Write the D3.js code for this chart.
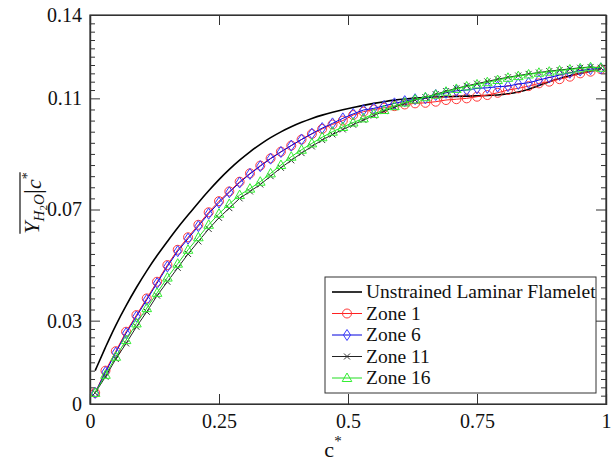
<!DOCTYPE html>
<html><head><meta charset="utf-8">
<script src="https://cdn.jsdelivr.net/npm/d3@7"></script>
<style>body{margin:0;background:#fff}svg{display:block}
svg text{font-family:"Liberation Serif","Times New Roman",Times,serif;}</style>
</head><body>
<svg id="chart" width="611" height="465"></svg>
<script>
// ---- data ----
const cStar = d3.range(50).map(i => +(0.01 + 0.02 * i).toFixed(2));
const flamelet = [0.012,0.0205,0.0285,0.0355,0.042,0.048,0.0535,0.0585,0.0635,0.068,
  0.0725,0.0768,0.0808,0.0845,0.0878,0.0908,0.0935,0.0959,0.098,0.0998,
  0.1014,0.1028,0.104,0.105,0.1059,0.1067,0.1075,0.1082,0.1088,0.1094,
  0.1098,0.1101,0.1103,0.1105,0.1106,0.1107,0.1108,0.1109,0.111,0.1112,
  0.1116,0.1122,0.1132,0.1146,0.116,0.1172,0.1182,0.119,0.1198,0.1205];
const zone1 = [0.004,0.012,0.019,0.026,0.032,0.038,0.044,0.05,0.0555,0.06,
  0.0645,0.069,0.073,0.0765,0.08,0.083,0.0858,0.0884,0.0908,0.093,
  0.0952,0.0972,0.099,0.1006,0.102,0.104,0.1052,0.106,0.1066,0.1072,
  0.1078,0.1082,0.1084,0.1088,0.1094,0.1097,0.11,0.1106,0.1112,0.112,
  0.113,0.1136,0.1144,0.1154,0.116,0.1169,0.1178,0.119,0.1196,0.1205];
const zone6 = [0.004,0.0115,0.0185,0.0255,0.0315,0.0375,0.0435,0.0495,0.055,0.0595,
  0.064,0.0685,0.0725,0.0762,0.0797,0.0828,0.0856,0.0883,0.0907,0.093,
  0.0952,0.0973,0.0993,0.101,0.1028,0.1044,0.1058,0.1064,0.1073,0.1082,
  0.109,0.1097,0.11,0.1112,0.112,0.1127,0.113,0.1136,0.1138,0.1142,
  0.1144,0.1152,0.1156,0.1166,0.1175,0.1184,0.1192,0.12,0.1205,0.1208];
const zone11 = [0.004,0.0098,0.0162,0.0218,0.0278,0.0332,0.039,0.044,0.049,0.054,
  0.0585,0.063,0.067,0.0705,0.074,0.0765,0.079,0.082,0.085,0.0877,
  0.0903,0.0927,0.095,0.097,0.0988,0.1005,0.1022,0.1038,0.1054,0.1068,
  0.1082,0.1094,0.1104,0.1115,0.1126,0.1136,0.1145,0.1153,0.1161,0.1169,
  0.1176,0.1182,0.1188,0.1193,0.1198,0.1202,0.1206,0.121,0.1213,0.121];
const zone16 = [0.004,0.0105,0.017,0.023,0.029,0.0345,0.04,0.0455,0.0505,0.0555,
  0.06,0.0645,0.0685,0.072,0.0752,0.0775,0.08,0.083,0.086,0.089,
  0.0915,0.0938,0.096,0.098,0.0997,0.1013,0.1028,0.1044,0.1058,0.1072,
  0.1085,0.1096,0.1104,0.1113,0.1124,0.1134,0.1143,0.115,0.1158,0.1166,
  0.1174,0.118,0.1186,0.1192,0.1196,0.12,0.1204,0.1208,0.1212,0.121];
const xTicks = [0, 0.25, 0.5, 0.75, 1];
const xTickLabels = ["0", "0.25", "0.5", "0.75", "1"];
const yTicks = [0, 0.03, 0.07, 0.11, 0.14];
const yTickLabels = ["0", "0.03", "0.07", "0.11", "0.14"];
const legendLabels = ["Unstrained Laminar Flamelet", "Zone 1", "Zone 6", "Zone 11", "Zone 16"];

// ---- setup ----
const svg = d3.select("#chart");
const L = 90, R = 606, T = 15, B = 404;
const font = '"Liberation Serif","Times New Roman",Times,serif';
const x = d3.scaleLinear().domain([0, 1]).range([L, R]);
const y = d3.scaleLinear().domain([0, 0.14]).range([B, T]);
const axisColor = "#333";

const yMinor = [];
for (let i = 0; i < yTicks.length - 1; i++) {
  const a = yTicks[i], b = yTicks[i + 1];
  for (let k = 1; k < 10; k++) yMinor.push(a + (b - a) * k / 10);
}

function styleAxis(g) {
  g.attr("font-family", null);
  g.selectAll("path").attr("stroke", axisColor).attr("stroke-width", 1.2);
  g.selectAll("line").attr("stroke", axisColor).attr("stroke-width", 1);
  g.selectAll("text").style("font-family", font).style("font-size", "20px").attr("fill", "#111");
}

svg.append("g").attr("transform", `translate(0,${B})`)
  .call(d3.axisBottom(x).tickValues(xTicks).tickFormat((d, i) => xTickLabels[i]).tickSize(-10).tickPadding(10))
  .call(styleAxis);
svg.append("g").attr("transform", `translate(0,${T})`)
  .call(d3.axisTop(x).tickValues(xTicks).tickFormat("").tickSize(-10))
  .call(styleAxis);
svg.append("g").attr("transform", `translate(${L},0)`)
  .call(d3.axisLeft(y).tickValues(yMinor).tickFormat("").tickSize(-5))
  .call(styleAxis);
svg.append("g").attr("transform", `translate(${L},0)`)
  .call(d3.axisLeft(y).tickValues(yTicks).tickFormat((d, i) => yTickLabels[i]).tickSize(-10).tickPadding(8))
  .call(styleAxis);
svg.append("g").attr("transform", `translate(${R},0)`)
  .call(d3.axisRight(y).tickValues(yMinor).tickFormat("").tickSize(-5))
  .call(styleAxis);
svg.append("g").attr("transform", `translate(${R},0)`)
  .call(d3.axisRight(y).tickValues(yTicks).tickFormat("").tickSize(-10))
  .call(styleAxis);

// ---- series ----
const pts = arr => cStar.map((c, i) => [c, arr[i]]);
const plot = svg.append("g");
const smooth = d3.line().x(d => x(d[0])).y(d => y(d[1])).curve(d3.curveBasis);
plot.append("path").datum(pts(flamelet)).attr("d", smooth)
  .attr("fill", "none").attr("stroke", "#000").attr("stroke-width", 1.6);

const lin = d3.line().x(d => x(d[0])).y(d => y(d[1]));
const series = [
  {data: zone1, color: "#ff3a3a", line: "#ff2020", marker: "circle"},
  {data: zone6, color: "#3a3aff", line: "#0000dd", marker: "diamond"},
  {data: zone11, color: "#333", line: "#222", marker: "x"},
  {data: zone16, color: "#33ee33", line: "#22dd22", marker: "triangle"}
];

function drawMarker(g, type, color) {
  if (type === "circle") g.append("circle").attr("r", 4.5).attr("fill", "none").attr("stroke", color).attr("stroke-width", 1);
  else if (type === "diamond") g.append("path").attr("d", "M0,-5.5L3.6,0L0,5.5L-3.6,0Z").attr("fill", "none").attr("stroke", color).attr("stroke-width", 1);
  else if (type === "x") g.append("path").attr("d", "M-3,-3L3,3M-3,3L3,-3").attr("stroke", color).attr("stroke-width", 1);
  else if (type === "triangle") g.append("path").attr("d", "M0,-5L4.8,3.5L-4.8,3.5Z").attr("fill", "none").attr("stroke", color).attr("stroke-width", 1);
}

series.forEach(s => {
  const p = pts(s.data);
  plot.append("path").datum(p).attr("d", lin).attr("fill", "none").attr("stroke", s.line).attr("stroke-width", 1);
  const mg = plot.append("g");
  p.forEach(d => {
    const g = mg.append("g").attr("transform", `translate(${x(d[0])},${y(d[1])})`);
    drawMarker(g, s.marker, s.color);
  });
});

svg.append("rect").attr("x", L).attr("y", T).attr("width", R - L).attr("height", B - T)
  .attr("fill", "none").attr("stroke", axisColor).attr("stroke-width", 1.2);

// ---- legend ----
const lg = svg.append("g");
lg.append("rect").attr("x", 325).attr("y", 277).attr("width", 271).attr("height", 116)
  .attr("fill", "#fff").attr("stroke", axisColor).attr("stroke-width", 1);
const legendStyles = [{color: "#000", line: "#000", marker: null, w: 1.6}].concat(series.map(s => ({color: s.color, line: s.line, marker: s.marker, w: 1})));
legendLabels.forEach((lab, i) => {
  const yy = 292 + i * 21.5;
  const st = legendStyles[i];
  lg.append("line").attr("x1", 332).attr("x2", 362).attr("y1", yy).attr("y2", yy)
    .attr("stroke", st.line).attr("stroke-width", st.w);
  if (st.marker) drawMarker(lg.append("g").attr("transform", `translate(347,${yy})`), st.marker, st.color);
  lg.append("text").attr("x", 366).attr("y", yy).attr("dy", "0.33em")
    .style("font-family", font).style("font-size", "19.5px").attr("fill", "#111").text(lab);
});

// ---- axis titles ----
const xt = svg.append("text").attr("x", 333).attr("y", 457).attr("text-anchor", "middle")
  .style("font-family", font).style("font-size", "22px").attr("fill", "#111");
xt.append("tspan").text("c");
xt.append("tspan").style("font-size", "15px").attr("dy", -11).text("*");

const yg = svg.append("g").attr("transform", "translate(39,203) rotate(-90)");
const yt = yg.append("text").attr("text-anchor", "middle")
  .style("font-family", font).style("font-size", "22px").attr("fill", "#111");
yt.append("tspan").attr("font-style", "italic").text("Y");
yt.append("tspan").attr("font-style", "italic").style("font-size", "15px").attr("dy", 5).text("H");
yt.append("tspan").style("font-size", "11px").attr("dy", 3).text("2");
yt.append("tspan").attr("font-style", "italic").style("font-size", "15px").attr("dy", -3).text("O");
yt.append("tspan").style("font-size", "26px").attr("dy", -3).text("|");
yt.append("tspan").attr("font-style", "italic").style("font-size", "22px").attr("dy", 0).text("c");
yt.append("tspan").style("font-size", "14px").attr("dy", -9).text("*");
const bb = yt.node().getBBox();
yg.append("line").attr("x1", bb.x).attr("x2", bb.x + bb.width).attr("y1", bb.y + 2).attr("y2", bb.y + 2)
  .attr("stroke", "#111").attr("stroke-width", 1.2);
</script>
</body></html>
